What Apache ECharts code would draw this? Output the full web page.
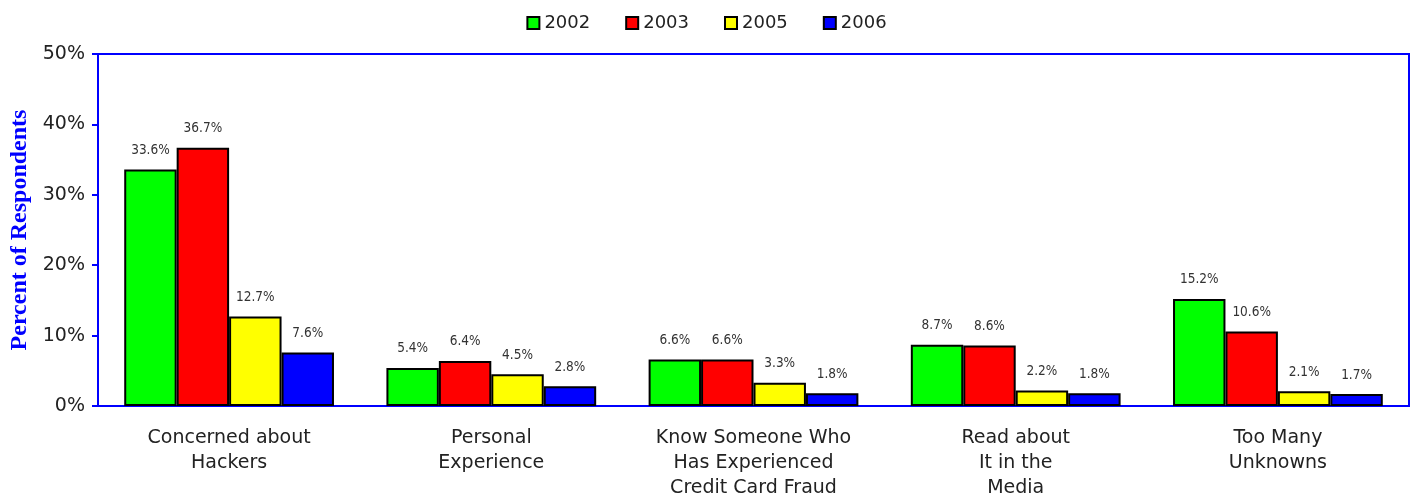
<!DOCTYPE html>
<html>
<head>
<meta charset="utf-8">
<script src="https://cdn.jsdelivr.net/npm/echarts@6/dist/echarts.min.js"></script>
<style>
html,body{margin:0;padding:0;background:#fff;}
#chart{width:1413px;height:500px;}
</style>
</head>
<body>
<div id="chart"></div>
<script>
var categories = ["Concerned about\nHackers", "Personal\nExperience", "Know Someone Who\nHas Experienced\nCredit Card Fraud", "Read about\nIt in the\nMedia", "Too Many\nUnknowns"];
var years = ["2002", "2003", "2005", "2006"];
var v2002 = [33.6, 5.4, 6.6, 8.7, 15.2];
var v2003 = [36.7, 6.4, 6.6, 8.6, 10.6];
var v2005 = [12.7, 4.5, 3.3, 2.2, 2.1];
var v2006 = [7.6, 2.8, 1.8, 1.8, 1.7];
var yTicks = [0, 10, 20, 30, 40, 50];
var colors = ["#00ff00", "#ff0000", "#ffff00", "#0000ff"];
var seriesValues = [v2002, v2003, v2005, v2006];

var chart = echarts.init(document.getElementById('chart'));
var series = years.map(function (y, i) {
  return {
    name: y,
    type: 'bar',
    data: seriesValues[i],
    barGap: '0%',
    barCategoryGap: '20%',
    itemStyle: { color: colors[i], borderColor: '#000', borderWidth: 2 },
    label: {
      show: true,
      position: 'top',
      distance: 12,
      formatter: function (p) { return p.value.toFixed(1) + '%'; },
      fontFamily: '"DejaVu Sans Condensed", "Liberation Sans Narrow", "Liberation Sans", sans-serif',
      fontSize: 13.5,
      color: '#333'
    }
  };
});

chart.setOption({
  animation: false,
  color: colors,
  legend: {
    data: years,
    top: 9,
    left: 'center',
    itemWidth: 12,
    itemHeight: 12,
    itemGap: 35,
    icon: 'rect',
    itemStyle: { borderColor: '#000', borderWidth: 2 },
    textStyle: { fontFamily: 'DejaVu Sans', fontSize: 18, color: '#222' }
  },
  grid: {
    left: 98, right: 4, top: 54, bottom: 94,
    containLabel: false,
    outerBoundsMode: 'none',
    show: true, borderColor: '#0000ff', borderWidth: 2, backgroundColor: 'transparent'
  },
  xAxis: {
    type: 'category',
    data: categories,
    axisLine: { lineStyle: { color: '#0000ff', width: 2 } },
    axisTick: { show: false },
    axisLabel: {
      interval: 0,
      margin: 20,
      lineHeight: 25,
      fontFamily: 'DejaVu Sans',
      fontSize: 19,
      color: '#222'
    }
  },
  yAxis: {
    type: 'value',
    min: yTicks[0],
    max: yTicks[yTicks.length - 1],
    interval: 10,
    name: 'Percent of Respondents',
    nameLocation: 'middle',
    nameGap: 64,
    nameTextStyle: { fontFamily: 'Liberation Serif', fontWeight: 'bold', fontSize: 24, color: '#0000ff' },
    splitLine: { show: false },
    axisLine: { show: true, lineStyle: { color: '#0000ff', width: 2 } },
    axisTick: { show: true, length: 6, lineStyle: { color: '#0000ff', width: 2 } },
    axisLabel: {
      formatter: '{value}%',
      margin: 13,
      fontFamily: 'DejaVu Sans',
      fontSize: 19,
      color: '#222'
    }
  },
  series: series
});
</script>
</body>
</html>
